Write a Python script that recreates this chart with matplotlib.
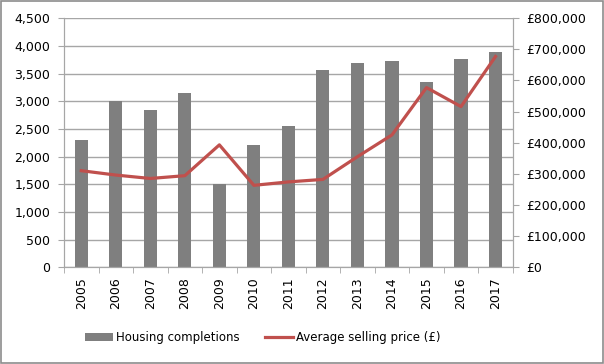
import numpy as np
import matplotlib.pyplot as plt
from matplotlib.ticker import FuncFormatter
from matplotlib.patches import Rectangle

years = ['2005', '2006', '2007', '2008', '2009', '2010', '2011',
         '2012', '2013', '2014', '2015', '2016', '2017']
completions = [2300, 3000, 2835, 3150, 1500, 2200, 2545,
               3555, 3690, 3735, 3355, 3760, 3890]
avg_price = [310000, 296000, 285000, 294000, 393000, 263000, 274000,
             282000, 355000, 425000, 577000, 516000, 677000]

plt.rcParams['font.family'] = 'DejaVu Sans'
plt.rcParams['font.size'] = 9

fig = plt.figure(figsize=(6.04, 3.64), dpi=100)
ax = fig.add_axes([0.106, 0.266, 0.743, 0.684])
ax2 = ax.twinx()

x = np.arange(len(years))
ax.bar(x, completions, width=0.38, color='#7f7f7f', zorder=2,
       label='Housing completions')
ax2.plot(x, avg_price, color='#c0504d', lw=2.3, zorder=3,
         label='Average selling price (£)')

ax.set_xlim(-0.5, len(years) - 0.5)
ax.set_ylim(0, 4500)
ax.set_yticks(np.arange(0, 4501, 500))
ax.yaxis.set_major_formatter(FuncFormatter(lambda v, p: f'{int(v):,}'))
ax2.set_ylim(0, 800000)
ax2.set_yticks(np.arange(0, 800001, 100000))
ax2.yaxis.set_major_formatter(FuncFormatter(lambda v, p: f'£{int(v):,}'))

ax.set_xticks(x)
ax.set_xticklabels(years, rotation=90)
ax.set_xticks(np.arange(-0.5, len(years), 1), minor=True)
ax.tick_params(axis='x', which='major', length=0, pad=7)
ax.tick_params(axis='x', which='minor', length=4, color='#a6a6a6')
ax.tick_params(axis='y', length=4, color='#a6a6a6', pad=6)
ax2.tick_params(axis='y', length=4, color='#a6a6a6', pad=6)

ax.grid(axis='y', color='#a6a6a6', lw=1, zorder=0)
ax.set_axisbelow(True)
for a in (ax, ax2):
    a.spines['top'].set_visible(False)
    a.spines['left'].set_color('#a6a6a6')
    a.spines['right'].set_color('#a6a6a6')
    a.spines['bottom'].set_color('#a6a6a6')

h1, l1 = ax.get_legend_handles_labels()
h2, l2 = ax2.get_legend_handles_labels()
fig.legend(h1 + h2, l1 + l2, loc='center', bbox_to_anchor=(0.435, 0.072),
           ncol=2, frameon=False, handlelength=2.4, handletextpad=0.25,
           columnspacing=2.1, fontsize=8.5)

fig.patches.append(Rectangle((0.001, 0.002), 0.998, 0.996, transform=fig.transFigure,
                             fill=False, edgecolor='#8c8c8c', lw=1.2))

fig.savefig('out.png', dpi=100)
